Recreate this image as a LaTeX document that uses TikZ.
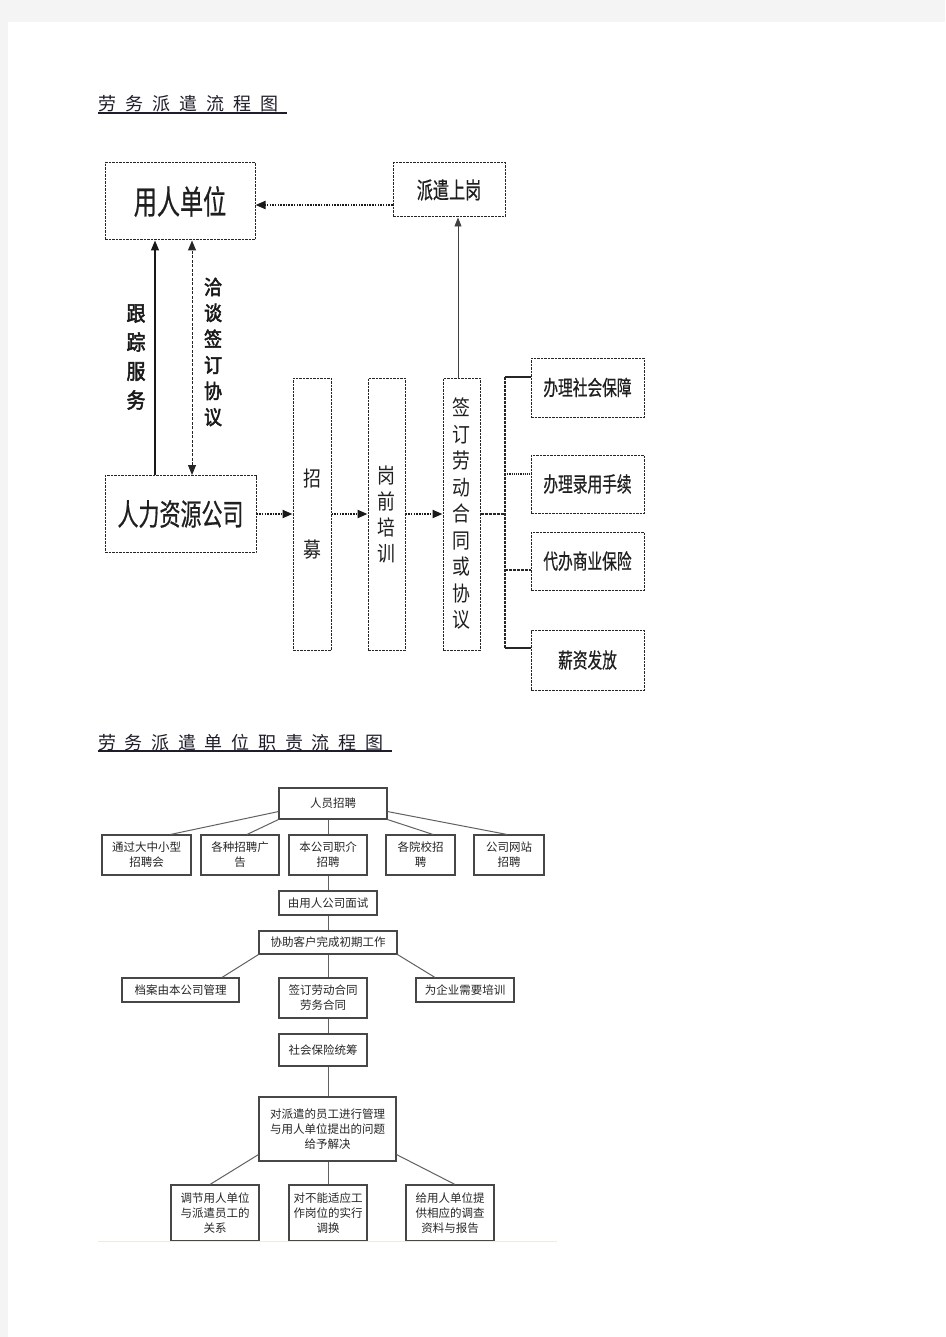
\documentclass[tikz,border=0pt]{standalone}
\usepackage{fontspec}
\usetikzlibrary{arrows.meta}
\newfontfamily\cjk{Noto Sans CJK SC}
\newfontfamily\cjkn[FakeStretch=0.7,FakeBold=0.6]{Noto Sans CJK SC}
\newfontfamily\cjkm[FakeStretch=0.85]{Noto Sans CJK SC}
\newfontfamily\cjkb[FakeStretch=0.9,FakeBold=2.5]{Noto Sans CJK SC}
\newcommand\tch[1]{\makebox[27pt][l]{#1}}
\newcommand\tcw[1]{\makebox[26.7pt][l]{#1}}
\definecolor{pagegray}{HTML}{F4F4F4}
\definecolor{titlecol}{HTML}{1E1E2A}
\definecolor{faint}{HTML}{EEEBE0}
\begin{document}
\begin{tikzpicture}[x=1pt,y=-1pt,
  tbox/.style={draw=black!85, line width=1pt, dash pattern=on 2.5pt off 1pt, inner sep=0, text=black!88, align=center},
  darr/.style={draw=black!90, line width=2pt, dash pattern=on 1.5pt off 1.2pt, -{Triangle[length=10pt,width=8pt]}},
  sarr/.style={draw=black!90, line width=1.4pt, -{Triangle[length=10pt,width=8pt]}},
  thinarr/.style={draw=black!75, line width=0.9pt, -{Triangle[length=9pt,width=7pt]}},
  ddarr/.style={draw=black!85, line width=1pt, dash pattern=on 3pt off 1.5pt, {Triangle[length=10pt,width=8pt]}-{Triangle[length=10pt,width=8pt]}},
  brk/.style={draw=black!85, line width=1.2pt, dash pattern=on 3pt off 1pt},
  bbox/.style={draw=black!72, line width=1.1pt, fill=white, inner sep=0, align=center, text=black!85, font=\cjk\fontsize{11.5}{15}\selectfont},
  ln/.style={draw=black!62, line width=1pt}
]
\useasboundingbox (0,0) rectangle (945,1337);
\fill[pagegray] (0,0) rectangle (945,1337);
\fill[white] (8,22) rectangle (945,1337);

% ---------- titles ----------
\node[anchor=base west, inner sep=0, text=titlecol, font=\cjk\fontsize{18}{18}\selectfont] (t1) at (98,111)
  {\tch{劳}\tch{务}\tch{派}\tch{遣}\tch{流}\tch{程}\tch{图}};
\draw[titlecol, line width=1.2pt] ([yshift=-2pt]t1.base west) -- ([yshift=-2pt]t1.base east);
\node[anchor=base west, inner sep=0, text=titlecol, font=\cjk\fontsize{18}{18}\selectfont] (t2) at (98,749)
  {\tcw{劳}\tcw{务}\tcw{派}\tcw{遣}\tcw{单}\tcw{位}\tcw{职}\tcw{责}\tcw{流}\tcw{程}\tcw{图}};
\draw[titlecol, line width=1.2pt] ([yshift=-2pt]t2.base west) -- ([yshift=-2pt]t2.base east);

% ---------- top diagram ----------
\node[tbox, minimum width=150, minimum height=77, font=\cjkn\fontsize{33}{33}\selectfont] (yr) at (180,201.5) {用人单位};
\node[tbox, minimum width=112, minimum height=54, font=\cjkn\fontsize{23}{23}\selectfont] (pq) at (449,190) {派遣上岗};
\node[tbox, minimum width=151, minimum height=77, font=\cjkn\fontsize{30}{30}\selectfont] (hr) at (180.5,514) {人力资源公司};
\node[tbox, minimum width=38, minimum height=272, font=\cjkm\fontsize{21}{71}\selectfont] (zm) at (312,514) {招\\募};
\node[tbox, minimum width=37, minimum height=272, font=\cjkm\fontsize{21}{26}\selectfont] (gq) at (386.5,514) {岗\\前\\培\\训};
\node[tbox, minimum width=37, minimum height=272, font=\cjkm\fontsize{21}{26.5}\selectfont] (qd) at (461.5,514) {签\\订\\劳\\动\\合\\同\\或\\协\\议};
\node[tbox, minimum width=113, minimum height=59, font=\cjkn\fontsize{21}{21}\selectfont] (s1) at (587.5,387.5) {办理社会保障};
\node[tbox, minimum width=113, minimum height=58, font=\cjkn\fontsize{21}{21}\selectfont] (s2) at (587.5,484) {办理录用手续};
\node[tbox, minimum width=113, minimum height=58, font=\cjkn\fontsize{21}{21}\selectfont] (s3) at (587.5,561) {代办商业保险};
\node[tbox, minimum width=113, minimum height=60, font=\cjkn\fontsize{21}{21}\selectfont] (s4) at (587.5,660) {薪资发放};

\node[inner sep=0, align=center, text=black!90, font=\cjkb\fontsize{21}{29}\selectfont] (lb1) at (136,357) {跟\\踪\\服\\务};
\node[inner sep=0, align=center, text=black!90, font=\cjkb\fontsize{20}{26}\selectfont] (lb2) at (213,352) {洽\\谈\\签\\订\\协\\议};

\draw[darr] ([yshift=-15pt]pq.west) -- ([yshift=-15pt]pq.west -| yr.east);
\draw[thinarr] ([xshift=-3.5pt]qd.north) -- ([xshift=-3.5pt]qd.north |- pq.south);
\draw[sarr] ([xshift=-25.5pt]hr.north) -- ([xshift=-25.5pt]hr.north |- yr.south);
\draw[ddarr] ([xshift=11.5pt]hr.north) -- ([xshift=11.5pt]hr.north |- yr.south);
\draw[darr] (hr.east) -- (zm.west);
\draw[darr] (zm.east) -- (gq.west);
\draw[darr] (gq.east) -- (qd.west);

\coordinate (bt) at (505,377);
\coordinate (c2) at (505,474);
\coordinate (c3) at (505,570);
\coordinate (bb) at (505,648);
\draw[brk] (bt) -- (bb);
\draw[brk] (qd.east) -- (qd.east -| bt);
\draw[brk, solid] (bt) -- (bt -| s1.west);
\draw[brk, densely dotted] (c2) -- (c2 -| s2.west);
\draw[brk] (c3) -- (c3 -| s3.west);
\draw[brk, solid] (bb) -- (bb -| s4.west);

% ---------- bottom diagram ----------
\coordinate (spine) at (328,800);
\node[bbox, minimum width=108, minimum height=31] (hire) at (333,803.5) {人员招聘};
\node[bbox, minimum width=89, minimum height=40] (r1) at (146.5,855) {通过大中小型\\招聘会};
\node[bbox, minimum width=78, minimum height=40] (r2) at (240,855) {各种招聘广\\告};
\node[bbox, minimum width=78, minimum height=40] (r3) at (328,855) {本公司职介\\招聘};
\node[bbox, minimum width=69, minimum height=40] (r4) at (420.5,855) {各院校招\\聘};
\node[bbox, minimum width=70, minimum height=40] (r5) at (509,855) {公司网站\\招聘};
\node[bbox, minimum width=98, minimum height=24] (iv) at (328,903) {由用人公司面试};
\node[bbox, minimum width=138, minimum height=23] (as) at (328,942.5) {协助客户完成初期工作};
\node[bbox, minimum width=117, minimum height=24] (da) at (180.5,990) {档案由本公司管理};
\node[bbox, minimum width=88, minimum height=40] (ct) at (323,998) {签订劳动合同\\劳务合同};
\node[bbox, minimum width=98, minimum height=24] (tr) at (465,990) {为企业需要培训};
\node[bbox, minimum width=88, minimum height=32] (so) at (323,1050) {社会保险统筹};
\node[bbox, minimum width=137, minimum height=64] (mg) at (327.5,1129) {对派遣的员工进行管理\\与用人单位提出的问题\\给予解决};
\node[bbox, minimum width=88, minimum height=56] (b1) at (215,1213) {调节用人单位\\与派遣员工的\\关系};
\node[bbox, minimum width=78, minimum height=56] (b2) at (328,1213) {对不能适应工\\作岗位的实行\\调换};
\node[bbox, minimum width=88, minimum height=56] (b3) at (450,1213) {给用人单位提\\供相应的调查\\资料与报告};

\draw[ln] ([yshift=8pt]hire.south west) -- ([xshift=24pt]r1.north);
\draw[ln] (hire.south west) -- ([xshift=7pt]r2.north);
\draw[ln] (hire.south -| spine) -- (r3.north -| spine);
\draw[ln] (hire.south east) -- ([xshift=12.5pt]r4.north);
\draw[ln] ([yshift=8pt]hire.south east) -- ([xshift=-2pt]r5.north);
\draw[ln] (r3.south -| spine) -- (iv.north -| spine);
\draw[ln] (iv.south -| spine) -- (as.north -| spine);
\draw[ln] (as.south west) -- ([xshift=41.5pt]da.north);
\draw[ln] (as.south east) -- ([xshift=-30pt]tr.north);
\draw[ln] (as.south -| spine) -- (ct.north -| spine);
\draw[ln] (ct.south -| spine) -- (so.north -| spine);
\draw[ln] (so.south -| spine) -- (mg.north -| spine);
\draw[ln] ([yshift=7pt]mg.south west) -- ([xshift=-5pt]b1.north);
\draw[ln] (mg.south -| spine) -- (b2.north -| spine);
\draw[ln] ([yshift=7pt]mg.south east) -- ([xshift=5pt]b3.north);

\draw[faint, line width=1pt] (98,1241) -- (557,1241);
\end{tikzpicture}
\end{document}
